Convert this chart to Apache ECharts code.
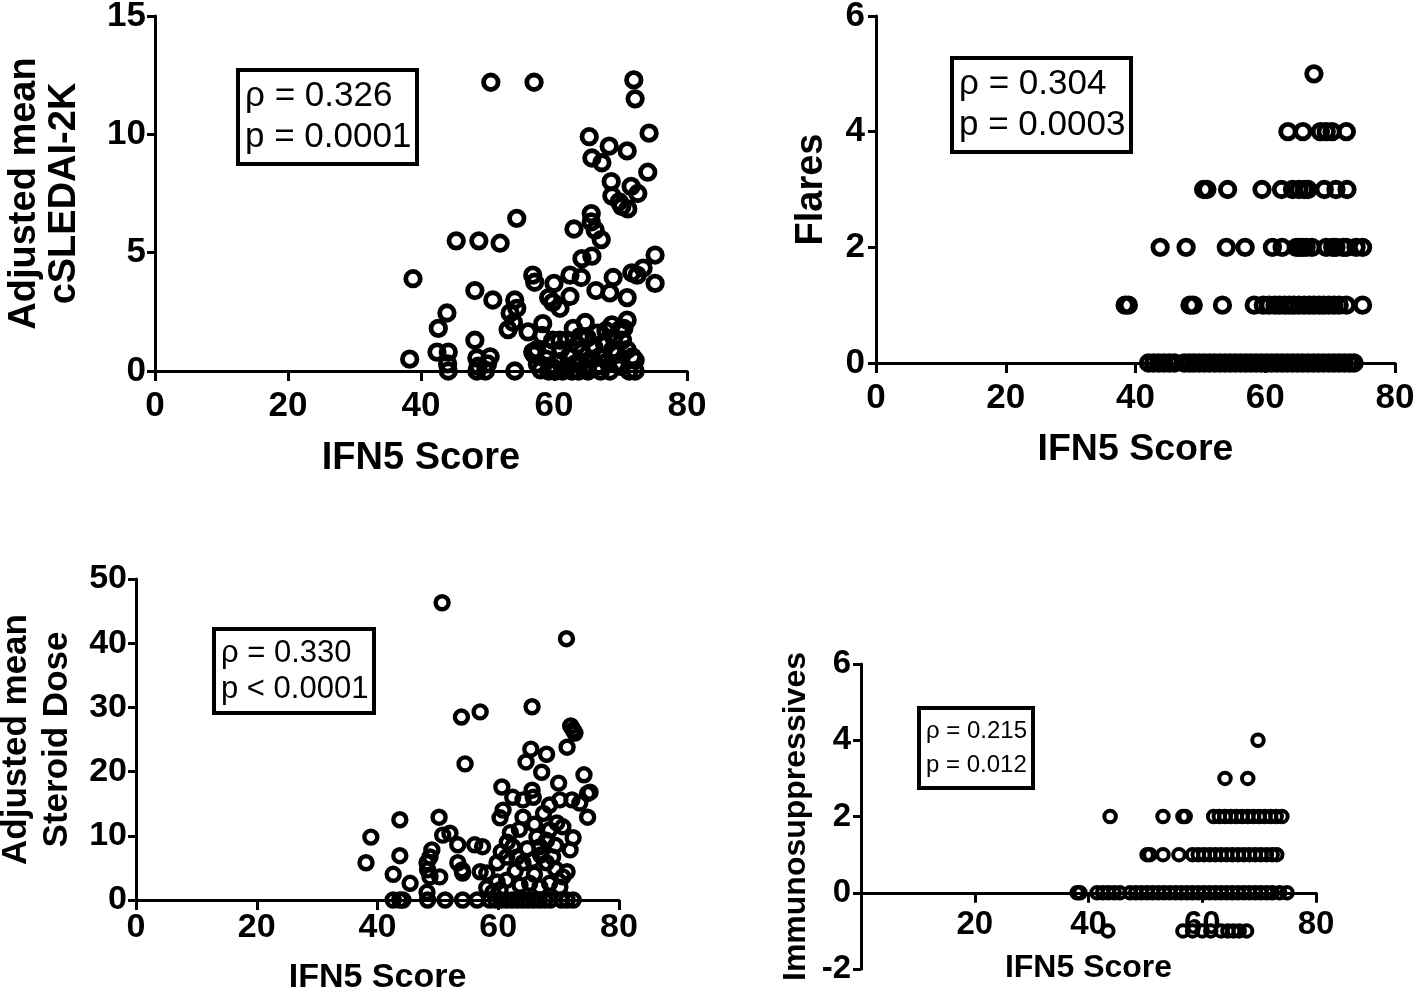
<!DOCTYPE html>
<html><head><meta charset="utf-8">
<script src="https://cdn.jsdelivr.net/npm/echarts@6/dist/echarts.min.js"></script>
<style>html,body{margin:0;padding:0;background:#fff}#c{width:1418px;height:992px}</style>
</head><body><div id="c"></div>
<script>
// ---- data ----
const xTicks = [0, 20, 40, 60, 80];
const sledai = [[50.5,12.2],[57.0,12.2],[72.0,12.3],[72.2,11.5],[65.3,9.9],[74.3,10.05],[68.3,9.5],[71.0,9.3],[65.7,9.0],[67.2,8.8],[74.1,8.4],[68.6,8.0],[71.6,7.8],[72.6,7.5],[68.7,7.4],[69.8,7.15],[70.2,6.95],[71.1,6.85],[65.6,6.65],[65.6,6.3],[54.4,6.45],[63.0,6.0],[66.2,5.95],[67.1,5.55],[45.3,5.5],[48.7,5.5],[51.9,5.4],[75.2,4.9],[64.2,4.75],[65.7,4.85],[38.8,3.9],[56.8,4.05],[57.1,3.75],[62.4,4.05],[64.1,3.95],[68.9,3.95],[71.7,4.15],[73.4,4.35],[72.5,4.05],[75.2,3.7],[60.0,3.7],[66.3,3.4],[68.4,3.3],[71.0,3.1],[48.1,3.4],[50.8,3.0],[54.1,3.0],[59.2,3.1],[62.4,3.15],[60.9,2.65],[59.8,2.9],[54.4,2.65],[53.4,2.45],[43.9,2.45],[42.6,1.8],[53.9,2.05],[53.1,1.75],[56.1,1.65],[58.3,2.0],[48.1,1.3],[60.9,1.3],[62.9,1.8],[64.7,2.05],[68.7,1.95],[71.0,2.15],[69.9,1.75],[66.5,1.6],[63.9,1.45],[42.4,0.8],[44.1,0.8],[38.3,0.5],[56.8,0.8],[50.4,0.6],[48.4,0.55],[71.0,0.9],[72.2,0.45],
[44.1,0],[48.4,0],[49.7,0],[54.1,0],[44.0,0.3],[48.6,0.2],[50.0,0.3],[57.5,0.3],[58.0,0.05],[58.8,0.5],[59.2,0],[59.8,0.15],[60.3,0],[60.8,0.4],[61.3,0],[61.8,0.1],[62.2,0.6],[62.7,0],[63.2,0.3],[63.7,0],[64.2,0.8],[64.6,0.1],[65.1,0],[65.6,0.5],[66.0,1.0],[66.5,0.2],[67.0,0],[67.5,1.2],[68.0,0.4],[68.4,0],[69.0,1.4],[69.5,0.7],[70.0,0.2],[70.5,1.8],[71.3,0],[71.8,0.6],[72.2,0],[63.5,1.1],[62.0,1.3],[61.0,0.9],[59.0,0.8],[58.2,1.5],[57.0,0.7],[60.0,0.1],[66.8,0.6],[68.8,0.9],[70.3,1.3],[65.0,1.4],[67.8,1.7],[69.3,0.3],[64.0,0.4],[59.8,1.3],[57.4,0.9]];
const flares = [[67.5,5],
[63.5,4],[65.8,4],[68.5,4],[69.4,4],[70.3,4],[72.5,4],
[50.5,3],[51.0,3],[54.2,3],[59.5,3],[62.5,3],[64.2,3],[65.2,3],[66.0,3],[66.6,3],[69.1,3],[70.9,3],[72.6,3],
[43.8,2],[47.8,2],[54.0,2],[56.9,2],[61.1,2],[62.6,2],[64.8,2],[65.3,2],[65.7,2],[66.3,2],[67.2,2],[69.4,2],[70.4,2],[70.9,2],[72.0,2],[72.5,2],[74.0,2],[75.0,2],
[38.4,1],[38.9,1],[48.4,1],[48.9,1],[53.4,1],[58.3,1],[59.7,1],[60.6,1],[61.5,1],[62.2,1],[63.0,1],[63.7,1],[64.4,1],[65.2,1],[66.0,1],[66.8,1],[67.5,1],[68.3,1],[69.0,1],[69.8,1],[70.6,1],[71.4,1],[72.5,1],[75.0,1],
[42.0,0],[42.8,0],[43.6,0],[44.4,0],[45.2,0],[46.0,0],[47.5,0],[48.3,0],[49.0,0],[49.8,0],[50.6,0],[51.4,0],[52.2,0],[53.0,0],[53.8,0],[54.6,0],[55.4,0],[56.2,0],[57.0,0],[57.8,0],[58.6,0],[59.4,0],[60.2,0],[61.0,0],[61.8,0],[62.6,0],[63.4,0],[64.2,0],[65.0,0],[65.8,0],[66.6,0],[67.4,0],[68.2,0],[69.0,0],[69.8,0],[70.6,0],[71.4,0],[72.2,0],[73.0,0],[73.7,0]];
const steroid = [[50.7,46.3],[71.3,40.7],[53.9,28.5],[57.0,29.3],[65.6,30.1],[54.5,21.2],[72.0,27.1],[72.4,26.5],[72.7,26.0],[71.4,23.8],[65.4,23.5],[68.0,22.7],[64.6,21.5],[67.2,19.9],[74.2,19.5],[60.6,17.6],[70.0,18.2],[65.6,17.1],[65.8,16.0],[62.4,16.0],[75.2,16.8],[74.8,16.6],[72.2,15.6],[73.5,15.1],[64.1,15.6],[68.5,14.8],[70.2,15.6],[60.8,14.0],[60.3,12.8],[64.1,12.9],[74.8,12.9],[43.7,12.5],[50.2,12.9],[38.9,9.8],[38.1,5.8],[43.7,6.9],[50.8,10.1],[52.0,10.4],[53.3,8.6],[56.1,8.6],[57.4,8.3],[49.0,7.8],[48.7,6.7],[48.2,5.8],[48.3,4.7],[48.7,3.6],[42.6,4.0],[45.4,2.6],[53.3,5.8],[54.0,4.7],[54.1,4.2],[57.0,4.4],[58.1,4.2],[50.3,3.6],[48.2,1.2],[59.8,5.8],[62.4,8.3],[63.1,6.7],[61.4,6.7],[66.4,9.8],[66.9,8.3],[68.5,10.9],[68.0,9.3],[69.7,12.0],[70.7,11.4],[72.4,9.7],[71.9,7.8],[71.4,4.4],[70.7,3.6],[64.1,5.8],[65.7,6.2],[68.0,5.8],[69.0,6.7],[59.8,2.8],[61.4,3.1],[63.6,2.3],[65.2,2.6],[66.9,2.0],[68.5,2.6],[70.2,2.0],[58.1,1.9],[59.1,1.2],[60.3,1.6],
[62.0,10.5],[63.5,11.0],[67.5,13.5],[66.0,11.8],[61.5,9.0],[64.8,8.0],[67.0,7.0],[69.5,8.5],[62.8,4.5],[66.0,4.0],[69.5,4.8],[60.5,7.5],
[42.6,0],[43.7,0],[44.2,0],[48.3,0],[51.2,0],[54.1,0],[56.5,0],[58.6,0],[59.6,0],[60.5,0],[61.4,0],[62.3,0],[63.2,0],[64.1,0],[65.0,0],[65.9,0],[66.8,0],[67.7,0],[68.6,0],[70.5,0],[71.4,0],[72.4,0]];
const immuno = [[69.8,4],
[64.0,3],[68.0,3],
[43.8,2],[53.1,2],[56.6,2],[57.0,2],[62.0,2],[63.0,2],[64.0,2],[65.0,2],[66.0,2],[67.0,2],[68.0,2],[69.0,2],[70.0,2],[71.0,2],[72.0,2],[73.0,2],[74.0,2],
[50.3,1],[50.8,1],[53.1,1],[55.9,1],[58.3,1],[59.3,1],[60.3,1],[61.3,1],[62.3,1],[63.3,1],[64.3,1],[65.3,1],[66.3,1],[67.3,1],[68.3,1],[69.3,1],[70.3,1],[71.3,1],[72.3,1],[73.1,1],
[38.0,0],[38.5,0],[41.5,0],[42.5,0],[43.5,0],[44.5,0],[45.5,0],[47.3,0],[48.3,0],[49.3,0],[50.3,0],[51.3,0],[52.3,0],[53.3,0],[54.3,0],[55.3,0],[56.3,0],[57.3,0],[58.3,0],[59.3,0],[60.3,0],[61.3,0],[62.3,0],[63.3,0],[64.3,0],[65.3,0],[66.3,0],[67.3,0],[68.3,0],[69.3,0],[70.3,0],[71.3,0],[72.3,0],[73.6,0],[74.9,0],
[43.4,-1],[56.6,-1],[58.3,-1],[60.0,-1],[61.5,-1],[63.3,-1],[64.5,-1],[65.5,-1],[66.5,-1],[67.8,-1]];
const stats = [
  ['ρ = 0.326', 'p = 0.0001'],
  ['ρ = 0.304', 'p = 0.0003'],
  ['ρ = 0.330', 'p < 0.0001'],
  ['ρ = 0.215', 'p = 0.012']
];
const yNames = ['Adjusted mean\ncSLEDAI-2K', 'Flares', 'Adjusted mean\nSteroid Dose', 'Immunosuppressives'];
const xName = 'IFN5 Score';

const FF = '"Liberation Sans", Arial, Helvetica, sans-serif';
const W = 1418, H = 992;
const chart = echarts.init(document.getElementById('c'));

const panels = [
  {grid:{left:155,right:731,top:16,bottom:621}, y:{min:0,max:15,interval:5}, tick:35, name:38, xname:38, ynameGap:70, ylh:40, xnameGap:69, xm:18, ym:9, sym:14.5, bw:4.8, box:{left:238,top:70,fs:35,lh:41}},
  {grid:{left:876,right:23,top:16,bottom:629}, y:{min:0,max:6,interval:2}, tick:35, name:38, xname:37.5, ynameGap:44, ylh:40, xnameGap:68, xm:18, ym:11, sym:14.5, bw:4.8, box:{left:952,top:58,fs:35,lh:41}},
  {grid:{left:136,right:799,top:579,bottom:92}, y:{min:0,max:50,interval:10}, tick:34, name:35, xname:34, ynameGap:58, ylh:41, xnameGap:61, xm:11, ym:9, sym:13, bw:4.4, box:{left:214,top:629,fs:31,lh:36}},
  {grid:{left:861,right:102,top:664,bottom:23}, y:{min:-2,max:6,interval:2}, tick:33, name:32, xname:32, ynameGap:48, ylh:34, xnameGap:59, xm:16, ym:10, sym:11.5, bw:4, box:{left:919,top:708,fs:24,lh:34}}
];
const datasets = [sledai, flares, steroid, immuno];

// x-axis crosses the y-axis at value 0: offset derived from the y scale
function zeroOffset(p){
  const h = H - p.grid.top - p.grid.bottom;
  return p.y.min < 0 ? -h * (0 - p.y.min) / (p.y.max - p.y.min) : 0;
}

const option = {
  backgroundColor:'#fff',
  animation:false,
  grid: panels.map(p => Object.assign({containLabel:false, outerBoundsMode:'none'}, p.grid)),
  title: panels.map((p,i) => ({
    text: stats[i].join('\n'),
    left: p.box.left, top: p.box.top,
    padding:[6,6,6,7],
    borderColor:'#000', borderWidth:4,
    textStyle:{fontFamily:FF, fontWeight:'normal', fontSize:p.box.fs, lineHeight:p.box.lh, color:'#000'}
  })),
  xAxis: panels.map((p,i) => ({
    type:'value', gridIndex:i, min:xTicks[0], max:xTicks[xTicks.length-1], interval:xTicks[1]-xTicks[0],
    position:'bottom', offset: zeroOffset(p),
    name:xName, nameLocation:'middle', nameGap:p.xnameGap,
    nameTextStyle:{fontFamily:FF, fontWeight:'bold', fontSize:p.xname, color:'#000'},
    axisLine:{show:true, onZero:false, lineStyle:{color:'#000', width:3}},
    axisTick:{show:true, length:10, lineStyle:{color:'#000', width:3}},
    axisLabel:{fontFamily:FF, fontWeight:'bold', fontSize:p.tick, color:'#000', margin:p.xm,
      formatter: v => (p.y.min < 0 && v===0) ? '' : String(v)},
    splitLine:{show:false}
  })),
  yAxis: panels.map((p,i) => ({
    type:'value', gridIndex:i, min:p.y.min, max:p.y.max, interval:p.y.interval,
    name:yNames[i], nameLocation:'middle', nameGap:p.ynameGap, nameRotate:90,
    nameTextStyle:{fontFamily:FF, fontWeight:'bold', fontSize:p.name, lineHeight:p.ylh, color:'#000'},
    axisLine:{show:true, onZero:false, lineStyle:{color:'#000', width:3}},
    axisTick:{show:true, length:8, lineStyle:{color:'#000', width:3}},
    axisLabel:{fontFamily:FF, fontWeight:'bold', fontSize:p.tick, color:'#000', margin:p.ym},
    splitLine:{show:false}
  })),
  series: datasets.map((d,i) => ({
    type:'scatter', xAxisIndex:i, yAxisIndex:i, data:d,
    symbol:'circle', symbolSize:panels[i].sym,
    itemStyle:{color:'rgba(0,0,0,0)', borderColor:'#000', borderWidth:panels[i].bw, opacity:1},
    emphasis:{disabled:true}, silent:true
  }))
};
chart.setOption(option);
</script>
</body></html>
